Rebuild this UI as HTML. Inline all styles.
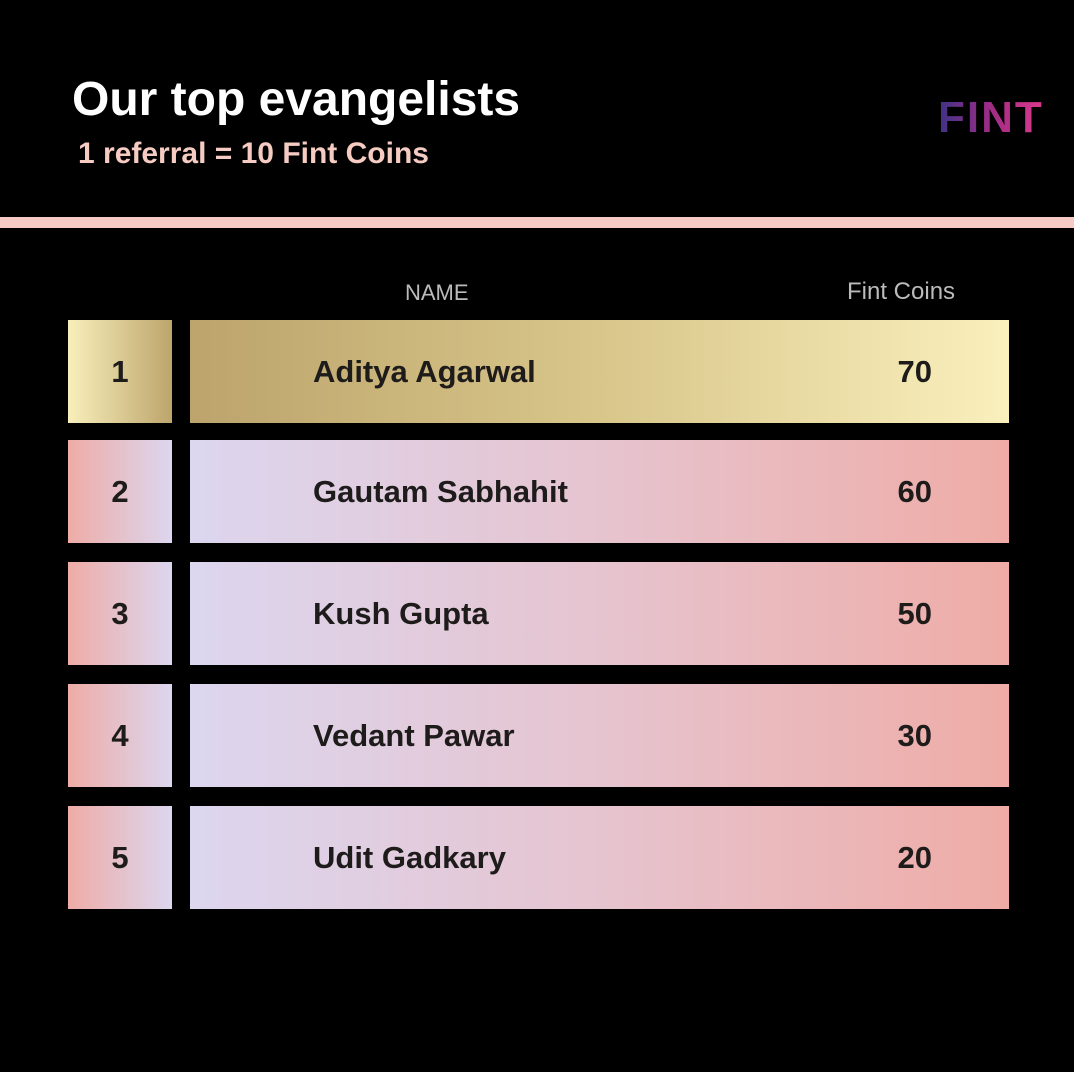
<!DOCTYPE html>
<html><head><meta charset="utf-8"><style>
body{margin:0;width:1074px;height:1072px;background:#000;overflow:hidden;font-family:"Liberation Sans",sans-serif;position:relative}
.abs{position:absolute}
.rank,.bar{position:absolute;height:103px;display:flex;align-items:center;font-weight:bold;color:#1e1b1b;font-size:31px}
.rank{left:68px;width:104px;justify-content:center}
.bar{left:190px;width:819px}
.nm{position:absolute;left:123px}
.val{position:absolute;right:77px}
</style></head><body>
<div class="abs" style="left:72px;top:72px;color:#fff;font-size:48px;font-weight:bold">Our top evangelists</div>
<div class="abs" style="left:78px;top:137px;color:#f6cbc2;font-size:30px;font-weight:bold">1 referral = 10 Fint Coins</div>
<div class="abs" style="left:938px;top:93px;font-size:44px;font-weight:bold;letter-spacing:2px;background:linear-gradient(90deg,#3d3386,#a02c86,#dc3a8c);-webkit-background-clip:text;color:transparent">FINT</div>
<div class="abs" style="left:0;top:217px;width:1074px;height:11px;background:#f6cbc6"></div>
<div class="abs" style="left:405px;top:280px;color:#bbb;font-size:22px">NAME</div>
<div class="abs" style="left:847px;top:278px;color:#bbb;font-size:24px">Fint Coins</div>
<div id="rows"></div>
<script>
const ranks=[1,2,3,4,5];
const names=["Aditya Agarwal","Gautam Sabhahit","Kush Gupta","Vedant Pawar","Udit Gadkary"];
const coins=[70,60,50,30,20];
const tops=[320,440,562,684,806];
const c=document.getElementById('rows');
ranks.forEach((r,i)=>{
  const gold=i===0;
  const rk=document.createElement('div');
  rk.className='rank';
  
  
  rk.style.top=tops[i]+'px';
  rk.style.background=gold?'linear-gradient(90deg,#f8efbb,#bda56c)':'linear-gradient(90deg,#eeaca6,#dcd6ef)';
  rk.textContent=r;
  c.appendChild(rk);
  const b=document.createElement('div');
  b.className='bar';
  
  
  b.style.top=tops[i]+'px';
  b.style.background=gold?'linear-gradient(90deg,#bca46c,#d8c68a 50%,#faf0bd)':'linear-gradient(90deg,#dcd6ef,#e6c4cf 50%,#efaca6)';
  const n=document.createElement('span');n.className='nm';n.textContent=names[i];
  
  
  const v=document.createElement('span');v.className='val';v.textContent=coins[i];
  
  
  b.appendChild(n);b.appendChild(v);c.appendChild(b);
});
</script>
</body></html>
